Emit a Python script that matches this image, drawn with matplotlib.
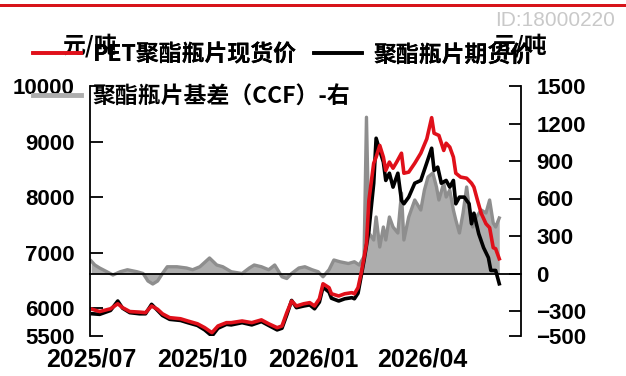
import matplotlib
matplotlib.use("Agg")
import matplotlib.pyplot as plt
from matplotlib.lines import Line2D
from matplotlib.patches import Rectangle
import pandas as pd

# --- data -------------------------------------------------------------
spot_dates = ["2025-07-02", "2025-07-08", "2025-07-17", "2025-07-23", "2025-07-27",
              "2025-08-02", "2025-08-10", "2025-08-15", "2025-08-20", "2025-08-25",
              "2025-08-29", "2025-09-04", "2025-09-13", "2025-09-19", "2025-09-27",
              "2025-10-03", "2025-10-09", "2025-10-14", "2025-10-21", "2025-10-25",
              "2025-11-03", "2025-11-11", "2025-11-19", "2025-11-25", "2025-12-02",
              "2025-12-06", "2025-12-10", "2025-12-14", "2025-12-18", "2025-12-24",
              "2025-12-29", "2026-01-02", "2026-01-06", "2026-01-09", "2026-01-14",
              "2026-01-16", "2026-01-22", "2026-01-27", "2026-02-02", "2026-02-04",
              "2026-02-07", "2026-02-10", "2026-02-14", "2026-02-16", "2026-02-20",
              "2026-02-22", "2026-02-25", "2026-02-28", "2026-03-02", "2026-03-05",
              "2026-03-08", "2026-03-11", "2026-03-15", "2026-03-17", "2026-03-21",
              "2026-03-26", "2026-03-31", "2026-04-05", "2026-04-09", "2026-04-11",
              "2026-04-15", "2026-04-19", "2026-04-21", "2026-04-24", "2026-04-27",
              "2026-04-29", "2026-05-03", "2026-05-08", "2026-05-12", "2026-05-14",
              "2026-05-17", "2026-05-20", "2026-05-24", "2026-05-27", "2026-05-30",
              "2026-06-01", "2026-06-04"]
spot_price = [5980, 5940, 5990, 6080, 6010, 5940, 5930, 5920, 6040, 5980,
              5900, 5830, 5810, 5770, 5720, 5650, 5560, 5680, 5740, 5740,
              5770, 5740, 5790, 5720, 5650, 5680, 5920, 6130, 6040, 6080,
              6100, 6040, 6170, 6440, 6370, 6260, 6220, 6260, 6280, 6260,
              6370, 6670, 7160, 7940, 8610, 8720, 8930, 8720, 8480, 8630,
              8520, 8630, 8790, 8430, 8450, 8610, 8790, 9050, 9430, 9150,
              9110, 8840, 8970, 8900, 8720, 8430, 8360, 8340, 8250, 8180,
              7940, 7710, 7520, 7450, 7090, 7070, 6890]

fut_dates = ["2025-07-02", "2025-07-08", "2025-07-17", "2025-07-23", "2025-07-27",
             "2025-08-02", "2025-08-10", "2025-08-15", "2025-08-20", "2025-08-25",
             "2025-08-29", "2025-09-04", "2025-09-13", "2025-09-19", "2025-09-27",
             "2025-10-03", "2025-10-09", "2025-10-14", "2025-10-21", "2025-10-25",
             "2025-11-03", "2025-11-11", "2025-11-19", "2025-11-25", "2025-12-02",
             "2025-12-06", "2025-12-10", "2025-12-14", "2025-12-18", "2025-12-24",
             "2025-12-29", "2026-01-02", "2026-01-06", "2026-01-09", "2026-01-14",
             "2026-01-16", "2026-01-22", "2026-01-27", "2026-02-02", "2026-02-04",
             "2026-02-07", "2026-02-12", "2026-02-16", "2026-02-20", "2026-02-22",
             "2026-02-25", "2026-02-28", "2026-03-02", "2026-03-05", "2026-03-08",
             "2026-03-12", "2026-03-15", "2026-03-17", "2026-03-21", "2026-03-26",
             "2026-03-31", "2026-04-05", "2026-04-09", "2026-04-11", "2026-04-14",
             "2026-04-17", "2026-04-21", "2026-04-24", "2026-04-27", "2026-04-29",
             "2026-05-02", "2026-05-06", "2026-05-10", "2026-05-12", "2026-05-14",
             "2026-05-18", "2026-05-22", "2026-05-26", "2026-05-28", "2026-06-01",
             "2026-06-04"]
fut_price = [5900, 5890, 5960, 6130, 6000, 5920, 5900, 5900, 6070, 5960,
             5870, 5800, 5780, 5740, 5690, 5610, 5500, 5640, 5710, 5700,
             5740, 5700, 5760, 5690, 5610, 5640, 5880, 6140, 6010, 6040,
             6060, 5990, 6110, 6380, 6290, 6180, 6130, 6170, 6190, 6170,
             6270, 6860, 7400, 8250, 9060, 8840, 8630, 8300, 8430, 8180,
             8430, 7940, 7880, 8000, 8250, 8300, 8620, 8880, 8480, 8540,
             8250, 8300, 8180, 8300, 7880, 8000, 8000, 7880, 7520, 7710,
             7340, 7090, 6910, 6680, 6680, 6440]

basis_dates = ["2025-07-01", "2025-07-04", "2025-07-08", "2025-07-14", "2025-07-19",
               "2025-07-25", "2025-07-31", "2025-08-08", "2025-08-13", "2025-08-17",
               "2025-08-21", "2025-08-25", "2025-08-29", "2025-09-02", "2025-09-10",
               "2025-09-18", "2025-09-23", "2025-09-29", "2025-10-07", "2025-10-13",
               "2025-10-18", "2025-10-25", "2025-11-03", "2025-11-09", "2025-11-13",
               "2025-11-19", "2025-11-25", "2025-11-30", "2025-12-06", "2025-12-10",
               "2025-12-14", "2025-12-20", "2025-12-25", "2025-12-31", "2026-01-05",
               "2026-01-09", "2026-01-14", "2026-01-18", "2026-01-23", "2026-01-30",
               "2026-02-04", "2026-02-08", "2026-02-12", "2026-02-14", "2026-02-16",
               "2026-02-20", "2026-02-22", "2026-02-25", "2026-02-28", "2026-03-02",
               "2026-03-05", "2026-03-08", "2026-03-12", "2026-03-15", "2026-03-17",
               "2026-03-21", "2026-03-26", "2026-03-31", "2026-04-03", "2026-04-06",
               "2026-04-10", "2026-04-13", "2026-04-15", "2026-04-19", "2026-04-21",
               "2026-04-24", "2026-04-27", "2026-04-29", "2026-05-02", "2026-05-05",
               "2026-05-08", "2026-05-10", "2026-05-13", "2026-05-16", "2026-05-20",
               "2026-05-24", "2026-05-27", "2026-05-30", "2026-06-01", "2026-06-04"]
basis_ccf = [100, 68, 44, 14, -12, 14, 30, 14, 0, -60,
             -84, -60, 0, 54, 54, 44, 30, 54, 124, 68,
             54, 14, 0, 44, 68, 54, 30, 68, -26, -40,
             0, 44, 54, 30, 14, -26, 30, 108, 94, 80,
             94, 68, 135, 1250, 324, 268, 452, 212, 372, 268,
             452, 372, 324, 644, 268, 452, 588, 508, 668, 772,
             804, 692, 588, 724, 612, 668, 508, 428, 324, 484,
             692, 532, 372, 452, 508, 484, 588, 404, 372, 444]

x_ticks = ["2025-07-01", "2025-10-01", "2026-01-01", "2026-04-01"]
left_ticks = [5500, 6000, 7000, 8000, 9000, 10000]
right_ticks = [-500, -300, 0, 300, 600, 900, 1200, 1500]

label_spot = "PET聚酯瓶片现货价"
label_fut = "聚酯瓶片期货价"
label_basis = "聚酯瓶片基差（CCF）-右"
unit = "元/吨"

# --- style ------------------------------------------------------------
cjk = ["Noto Sans CJK SC", "DejaVu Sans"]
num_font = ["Liberation Sans Narrow", "Liberation Sans", "DejaVu Sans"]
RED = "#E0101A"
BLACK = "#000000"
GRAY_FILL = "#ADADAD"
GRAY_LINE = "#8E8E8E"
W, H = 626, 376

fig = plt.figure(figsize=(W / 100, H / 100), dpi=100)
ax = fig.add_axes([90 / W, 1 - 336 / H, (521 - 90) / W, (336 - 86) / H])
ax2 = ax.twinx()

sd = pd.to_datetime(spot_dates)
fd = pd.to_datetime(fut_dates)
bd = pd.to_datetime(basis_dates)

# basis area on the right axis
ax2.fill_between(bd, 0, basis_ccf, color=GRAY_FILL, lw=0)
ax2.plot(bd, basis_ccf, color=GRAY_LINE, lw=2.4, solid_joinstyle="round")

# price lines on the left axis, drawn above the basis area
ax.plot(fd, fut_price, color=BLACK, lw=2.6, solid_joinstyle="round")
ax.plot(sd, spot_price, color=RED, lw=2.6, solid_joinstyle="round")
ax.set_zorder(ax2.get_zorder() + 1)
ax.patch.set_visible(False)

ax.set_xlim(pd.Timestamp("2025-06-30"), pd.Timestamp("2026-06-22"))
ax.set_ylim(5500, 10000)
ax2.set_ylim(-500, 1500)

ax.set_yticks(left_ticks)
ax2.set_yticks(right_ticks)
ax.set_yticklabels([str(v) for v in left_ticks])
ax2.set_yticklabels([str(v).replace("-", "\u2212") for v in right_ticks])

xt = pd.to_datetime(x_ticks)
ax.set_xticks(xt)
ax.set_xticklabels([d.strftime("%Y/%m") for d in xt])

for s in ["top", "right", "bottom"]:
    ax.spines[s].set_visible(False)
ax.spines["left"].set_linewidth(1.3)
for s in ["top", "left"]:
    ax2.spines[s].set_visible(False)
ax2.spines["right"].set_linewidth(1.3)
# zero line of the basis axis, carrying the date ticks
ax2.spines["bottom"].set_visible(True)
ax2.spines["bottom"].set_position(("data", 0))
ax2.spines["bottom"].set_linewidth(1.3)
ax2.xaxis.set_tick_params(bottom=True, labelbottom=False, direction="in",
                          length=8, width=1.3)

ax.tick_params(axis="y", direction="in", length=9, width=1.3, pad=11)
ax2.tick_params(axis="y", direction="in", length=9, width=1.3, pad=11)
ax.tick_params(axis="x", length=0, pad=8)

for lab in ax.get_yticklabels() + ax2.get_yticklabels():
    lab.set_fontfamily(num_font)
    lab.set_fontsize(16)
    lab.set_fontweight("bold")
for lab in ax.get_xticklabels():
    lab.set_fontfamily(num_font)
    lab.set_fontsize(18)
    lab.set_fontweight("bold")

# legend: first row holds the two price series, second row the basis
leg_prop = {"family": cjk, "size": 16.5, "weight": "bold"}
leg1 = fig.legend([Line2D([], [], color=RED, lw=2.6), Line2D([], [], color=BLACK, lw=2.6)],
                  [label_spot, label_fut], loc="center left",
                  bbox_to_anchor=(33 / W, 1 - 55 / H), ncol=2, frameon=False,
                  borderpad=0, borderaxespad=0, handlelength=2.1, handletextpad=0.5,
                  columnspacing=0.75, prop=leg_prop)
leg2 = fig.legend([Line2D([], [], color=GRAY_FILL, lw=3.5)], [label_basis],
                  loc="center left", bbox_to_anchor=(33 / W, 1 - 97 / H),
                  frameon=False, borderpad=0, borderaxespad=0, handlelength=2.1,
                  handletextpad=0.5, prop=leg_prop)
fig.add_artist(leg1)

# unit titles above both axes
fig.text(90 / W, 1 - 46 / H, unit, ha="center", va="center",
         fontsize=16.5, fontweight="bold", family=cjk)
fig.text(520 / W, 1 - 46 / H, unit, ha="center", va="center",
         fontsize=16.5, fontweight="bold", family=cjk)

# header rule and id mark
fig.add_artist(Rectangle((0, 1 - 7 / H), 1, 3 / H, transform=fig.transFigure,
                         color="#D7141A", lw=0))
fig.text(615 / W, 1 - 21 / H, "ID:18000220", ha="right", va="center",
         fontsize=15, color="#C9C9C9", family=["Liberation Sans", "DejaVu Sans"])

fig.savefig("out.png", dpi=100)
